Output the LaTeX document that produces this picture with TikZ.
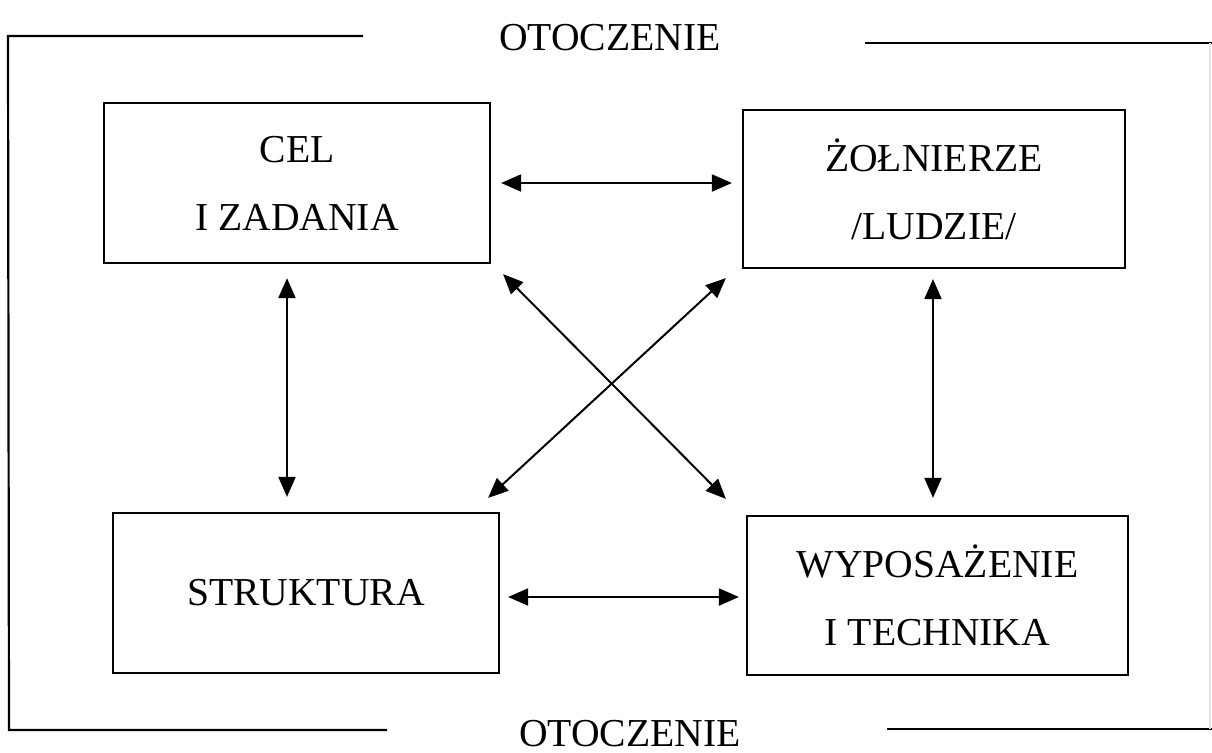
\documentclass[tikz,border=0pt]{standalone}
\usepackage{fontspec}
\setmainfont{Liberation Serif}
\usetikzlibrary{arrows.meta}
\begin{document}
\begin{tikzpicture}[x=0.5pt,y=-0.5pt,
  box/.style={draw,line width=1.1pt,rectangle,align=center,inner sep=0pt,
    font=\fontsize{19.8}{34}\selectfont},
  lbl/.style={font=\fontsize{19.8}{24}\selectfont,anchor=base,inner sep=0pt},
  frame/.style={line width=1.1pt},
  arr/.style={line width=1pt,{Triangle[length=10pt,width=8.5pt]}-{Triangle[length=10pt,width=8.5pt]}}]
\useasboundingbox (0,0) rectangle (1212,752);
% frame
\coordinate (tl1) at (8,36);
\coordinate (tl2) at (363,36);
\coordinate (bl1) at (9,730);
\coordinate (bl2) at (387,730);
\coordinate (tr1) at (865,43);
\coordinate (tr2) at (1212,43);
\coordinate (br1) at (887,729);
\coordinate (br2) at (1212,729);
\draw[frame] (tl2) -- (tl1) -- (bl1) -- (bl2);
\draw[frame] (tr1) -- (tr2);
\draw[frame] (br1) -- (br2);
\draw[gray!20,line width=0.6pt] (1210,43) -- (1210,729);
% labels
\node[lbl] (otop) at (610,50) {OTOCZENIE};
\node[lbl] (obot) at (630,746) {OTOCZENIE};
% boxes
\node[box,minimum width=193pt,minimum height=80pt] (cel) at (297,183) {CEL\\I ZADANIA};
\node[box,minimum width=191pt,minimum height=79pt] (zol) at (934,189) {ŻOŁNIERZE\\/LUDZIE/};
\node[box,minimum width=193pt,minimum height=80pt] (str) at (306,593) {STRUKTURA};
\node[box,minimum width=190.5pt,minimum height=79.5pt] (wyp) at (937.5,595.5) {WYPOSAŻENIE\\I TECHNIKA};
% connectors
\draw[arr] ([shift={(10,0)}]cel.east |- 0,183) -- ([shift={(-10,0)}]zol.west |- 0,183);
\draw[arr] ([shift={(8,0)}]str.east |- 0,597) -- ([shift={(-7,0)}]wyp.west |- 0,597);
\draw[arr] ([shift={(0,14)}]cel.south -| 287,0) -- ([shift={(0,-15)}]str.north -| 287,0);
\draw[arr] ([shift={(0,10)}]zol.south -| 933,0) -- ([shift={(0,-17)}]wyp.north -| 933,0);
\draw[arr] ([shift={(12,10)}]cel.south east) -- ([shift={(-20,-16)}]wyp.north west);
\draw[arr] ([shift={(-16,9)}]zol.south west) -- ([shift={(-12,-14)}]str.north east);
\end{tikzpicture}
\end{document}
